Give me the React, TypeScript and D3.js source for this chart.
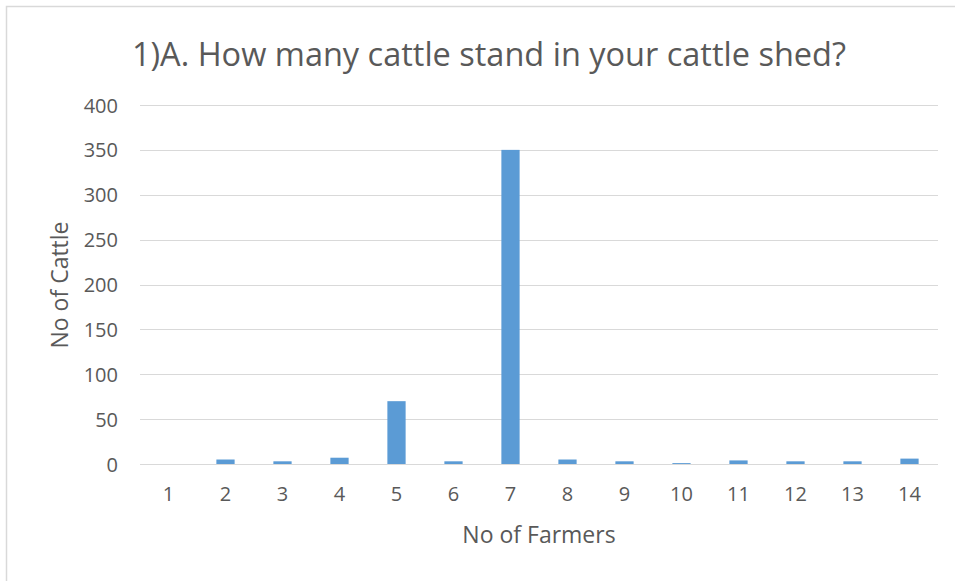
import React from "react";
import * as d3 from "d3";

// Datos
const farmers = ["1", "2", "3", "4", "5", "6", "7", "8", "9", "10", "11", "12", "13", "14"];
const cattle = [0, 5, 3, 7, 70, 3, 350, 5, 3, 1, 4, 3, 3, 6];
const yTicks = [0, 50, 100, 150, 200, 250, 300, 350, 400];

const W = 955;
const H = 581;
const plot = { left: 140, right: 938, top: 105, bottom: 464 };
const font = "'Open Sans', sans-serif";
const textColor = "#595959";

export default function App() {
  const x = d3.scaleBand<string>().domain(farmers).range([plot.left, plot.right]).paddingInner(0.68).paddingOuter(0.34);
  const y = d3.scaleLinear().domain([0, 400]).range([plot.bottom, plot.top]);

  return (
    <div style={{ position: "absolute", left: 0, top: 0 }}>
      <svg width={W} height={H} style={{ display: "block", background: "#fff" }}>
        <rect x={6.5} y={6.5} width={W + 10} height={H + 10} fill="#fff" stroke="#d9d9d9" strokeWidth={1.5} />
        <text x={489} y={53} textAnchor="middle" dominantBaseline="central" fontFamily={font} fontSize={32.5} fill={textColor}>
          1)A. How many cattle stand in your cattle shed?
        </text>
        {yTicks.map(t => (
          <g key={t}>
            <line x1={plot.left} x2={plot.right} y1={Math.round(y(t)) + 0.5} y2={Math.round(y(t)) + 0.5} stroke="#d9d9d9" strokeWidth={1} />
            <text x={118} y={y(t)} textAnchor="end" dominantBaseline="central" fontFamily={font} fontSize={20} fill={textColor}>
              {t}
            </text>
          </g>
        ))}
        {farmers.map((f, i) => (
          <rect key={f} x={x(f)!} y={y(cattle[i])} width={x.bandwidth()} height={plot.bottom - y(cattle[i])} fill="#5b9bd5" />
        ))}
        <line x1={plot.left} x2={plot.right} y1={plot.bottom + 0.5} y2={plot.bottom + 0.5} stroke="#d9d9d9" strokeWidth={1} />
        {farmers.map(f => (
          <text key={f} x={x(f)! + x.bandwidth() / 2} y={493} textAnchor="middle" dominantBaseline="central" fontFamily={font} fontSize={20} fill={textColor}>
            {f}
          </text>
        ))}
        <text x={539} y={534} textAnchor="middle" dominantBaseline="central" fontFamily={font} fontSize={23} fill={textColor}>
          No of Farmers
        </text>
        <text transform={`translate(59,285) rotate(-90)`} textAnchor="middle" dominantBaseline="central" fontFamily={font} fontSize={23} fill={textColor}>
          No of Cattle
        </text>
      </svg>
    </div>
  );
}
